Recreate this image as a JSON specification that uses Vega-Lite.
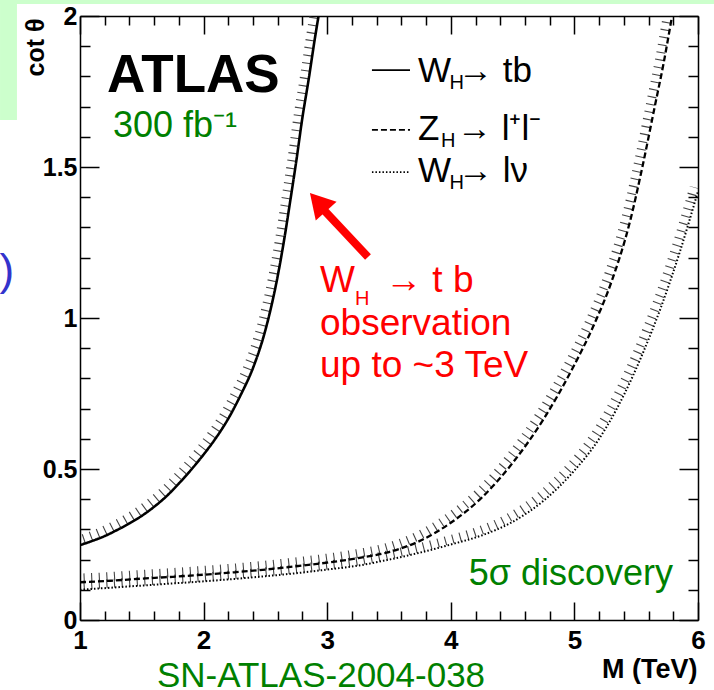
{
  "$schema": "https://vega.github.io/schema/vega-lite/v6.json",
  "width": 618,
  "height": 604,
  "autosize": {"type": "none"},
  "padding": {"left": 80, "top": 16, "right": 16, "bottom": 70},
  "background": "white",
  "config": {
    "view": {"stroke": null},
    "font": "Liberation Sans",
    "axis": {"domainColor": "#000", "domainWidth": 1.5, "tickColor": "#000", "tickWidth": 1.5, "grid": false, "labelOverlap": false, "labelFlush": false, "labelBound": false}
  },
  "datasets": {
    "curves": [
      {"ch": "tb", "m": 1.0, "c": 0.248},
      {"ch": "tb", "m": 1.1, "c": 0.262},
      {"ch": "tb", "m": 1.2, "c": 0.278},
      {"ch": "tb", "m": 1.3, "c": 0.298},
      {"ch": "tb", "m": 1.4, "c": 0.32},
      {"ch": "tb", "m": 1.5, "c": 0.345},
      {"ch": "tb", "m": 1.6, "c": 0.375},
      {"ch": "tb", "m": 1.7, "c": 0.41},
      {"ch": "tb", "m": 1.8, "c": 0.452},
      {"ch": "tb", "m": 1.9, "c": 0.498},
      {"ch": "tb", "m": 2.0, "c": 0.548},
      {"ch": "tb", "m": 2.1, "c": 0.603},
      {"ch": "tb", "m": 2.2, "c": 0.667},
      {"ch": "tb", "m": 2.3, "c": 0.745},
      {"ch": "tb", "m": 2.4, "c": 0.835},
      {"ch": "tb", "m": 2.5, "c": 0.96},
      {"ch": "tb", "m": 2.6, "c": 1.14},
      {"ch": "tb", "m": 2.65, "c": 1.255},
      {"ch": "tb", "m": 2.7, "c": 1.385},
      {"ch": "tb", "m": 2.75, "c": 1.52},
      {"ch": "tb", "m": 2.8, "c": 1.665},
      {"ch": "tb", "m": 2.85, "c": 1.79},
      {"ch": "tb", "m": 2.9, "c": 1.925},
      {"ch": "tb", "m": 2.93, "c": 2.0},
      {"ch": "ll", "m": 1.0, "c": 0.125},
      {"ch": "ll", "m": 1.25, "c": 0.13},
      {"ch": "ll", "m": 1.5, "c": 0.137},
      {"ch": "ll", "m": 1.75, "c": 0.143},
      {"ch": "ll", "m": 2.0, "c": 0.15},
      {"ch": "ll", "m": 2.25, "c": 0.158},
      {"ch": "ll", "m": 2.5, "c": 0.167},
      {"ch": "ll", "m": 2.75, "c": 0.178},
      {"ch": "ll", "m": 3.0, "c": 0.19},
      {"ch": "ll", "m": 3.25, "c": 0.205},
      {"ch": "ll", "m": 3.5, "c": 0.225},
      {"ch": "ll", "m": 3.75, "c": 0.262},
      {"ch": "ll", "m": 4.0, "c": 0.322},
      {"ch": "ll", "m": 4.25, "c": 0.405},
      {"ch": "ll", "m": 4.5, "c": 0.52},
      {"ch": "ll", "m": 4.75, "c": 0.665},
      {"ch": "ll", "m": 5.0, "c": 0.845},
      {"ch": "ll", "m": 5.15, "c": 0.97},
      {"ch": "ll", "m": 5.3, "c": 1.12},
      {"ch": "ll", "m": 5.45, "c": 1.32},
      {"ch": "ll", "m": 5.55, "c": 1.5},
      {"ch": "ll", "m": 5.65, "c": 1.7},
      {"ch": "ll", "m": 5.72, "c": 1.84},
      {"ch": "ll", "m": 5.79, "c": 2.0},
      {"ch": "lnu", "m": 1.0, "c": 0.1},
      {"ch": "lnu", "m": 1.25, "c": 0.107},
      {"ch": "lnu", "m": 1.5, "c": 0.114},
      {"ch": "lnu", "m": 1.75, "c": 0.121},
      {"ch": "lnu", "m": 2.0, "c": 0.128},
      {"ch": "lnu", "m": 2.25, "c": 0.136},
      {"ch": "lnu", "m": 2.5, "c": 0.145},
      {"ch": "lnu", "m": 2.75, "c": 0.155},
      {"ch": "lnu", "m": 3.0, "c": 0.167},
      {"ch": "lnu", "m": 3.25, "c": 0.18},
      {"ch": "lnu", "m": 3.5, "c": 0.2},
      {"ch": "lnu", "m": 3.75, "c": 0.223},
      {"ch": "lnu", "m": 4.0, "c": 0.25},
      {"ch": "lnu", "m": 4.25, "c": 0.28},
      {"ch": "lnu", "m": 4.5, "c": 0.325},
      {"ch": "lnu", "m": 4.75, "c": 0.395},
      {"ch": "lnu", "m": 5.0, "c": 0.495},
      {"ch": "lnu", "m": 5.2, "c": 0.6},
      {"ch": "lnu", "m": 5.4, "c": 0.745},
      {"ch": "lnu", "m": 5.55, "c": 0.88},
      {"ch": "lnu", "m": 5.7, "c": 1.035},
      {"ch": "lnu", "m": 5.85, "c": 1.215},
      {"ch": "lnu", "m": 6.0, "c": 1.42}
    ]
  },
  "layer": [
    {
      "data": {"values": [
        {"x1": 0.353, "x2": 0.49, "y1": 2.053, "y2": 1.656},
        {"x1": 0.353, "x2": 6.2, "y1": 2.053, "y2": 2.04}
      ]},
      "mark": {"type": "rect", "color": "#ccffcc"},
      "encoding": {
        "x": {"field": "x1", "type": "quantitative", "scale": {"domain": [1, 6], "nice": false, "zero": false}, "axis": null},
        "x2": {"field": "x2"},
        "y": {"field": "y1", "type": "quantitative", "scale": {"domain": [0, 2], "nice": false, "zero": false}, "axis": null},
        "y2": {"field": "y2"}
      }
    },
    {
      "data": {"name": "curves"},
      "mark": {"type": "line", "color": "#444", "strokeWidth": 9, "strokeDash": [1.1, 6.5], "xOffset": -4, "yOffset": -4, "clip": true, "interpolate": "monotone"},
      "encoding": {
        "x": {"field": "m", "type": "quantitative", "scale": {"domain": [1, 6], "nice": false, "zero": false},
          "axis": {"orient": "bottom", "values": [1,1.2,1.4,1.6,1.8,2,2.2,2.4,2.6,2.8,3,3.2,3.4,3.6,3.8,4,4.2,4.4,4.6,4.8,5,5.2,5.4,5.6,5.8,6],
            "tickSize": {"condition": {"test": "datum.value % 1 == 0", "value": -18}, "value": -9},
            "labelExpr": "datum.value % 1 == 0 ? '' + datum.value : ''",
            "labelFont": "Liberation Sans", "labelFontWeight": "bold", "labelFontSize": 26, "labelColor": "#000", "labelPadding": 25, "labelBaseline": "top",
            "title": "M (TeV)", "titleFont": "Liberation Sans", "titleFontWeight": "bold", "titleFontSize": 27, "titleColor": "#000",
            "titleAnchor": "end", "titleAlign": "right", "titleBaseline": "alphabetic", "titleX": 617, "titleY": 57}},
        "y": {"field": "c", "type": "quantitative", "scale": {"domain": [0, 2], "nice": false, "zero": false},
          "axis": {"orient": "left", "values": [0,0.1,0.2,0.3,0.4,0.5,0.6,0.7,0.8,0.9,1,1.1,1.2,1.3,1.4,1.5,1.6,1.7,1.8,1.9,2],
            "tickSize": {"condition": {"test": "round(datum.value*10) % 5 == 0", "value": -19}, "value": -10},
            "labelExpr": "round(datum.value*10) % 5 == 0 ? '' + datum.value : ''",
            "labelFont": "Liberation Sans", "labelFontWeight": "bold", "labelFontSize": 25, "labelColor": "#000", "labelPadding": 22,
            "title": "cot θ", "titleFont": "Liberation Sans", "titleFontWeight": "bold", "titleFontSize": 25, "titleColor": "#000",
            "titleAngle": -90, "titleAlign": "right", "titleBaseline": "alphabetic", "titleX": -37, "titleY": 2}},
        "detail": {"field": "ch"}
      }
    },
    {
      "data": {"name": "curves"},
      "mark": {"type": "line", "color": "#000", "clip": true, "interpolate": "monotone"},
      "encoding": {
        "x": {"field": "m", "type": "quantitative", "scale": {"domain": [1, 6], "nice": false, "zero": false},
          "axis": {"orient": "top", "values": [1,1.2,1.4,1.6,1.8,2,2.2,2.4,2.6,2.8,3,3.2,3.4,3.6,3.8,4,4.2,4.4,4.6,4.8,5,5.2,5.4,5.6,5.8,6],
            "tickSize": {"condition": {"test": "datum.value % 1 == 0", "value": -18}, "value": -9},
            "labels": false, "title": null}},
        "y": {"field": "c", "type": "quantitative", "scale": {"domain": [0, 2], "nice": false, "zero": false},
          "axis": {"orient": "right", "values": [0,0.1,0.2,0.3,0.4,0.5,0.6,0.7,0.8,0.9,1,1.1,1.2,1.3,1.4,1.5,1.6,1.7,1.8,1.9,2],
            "tickSize": {"condition": {"test": "round(datum.value*10) % 5 == 0", "value": -19}, "value": -10},
            "labels": false, "title": null}},
        "detail": {"field": "ch"},
        "strokeDash": {"field": "ch", "type": "nominal", "scale": {"domain": ["tb", "ll", "lnu"], "range": [[1, 0], [6, 3], [1.5, 2]]}, "legend": null},
        "strokeWidth": {"field": "ch", "type": "nominal", "scale": {"domain": ["tb", "ll", "lnu"], "range": [2.6, 2, 2.2]}, "legend": null}
      }
    },
    {
      "data": {"values": [
        {"ch": "tb", "m1": 3.362, "m2": 3.67, "c": 1.821},
        {"ch": "ll", "m1": 3.362, "m2": 3.67, "c": 1.623},
        {"ch": "lnu", "m1": 3.362, "m2": 3.67, "c": 1.483}
      ]},
      "mark": {"type": "rule", "color": "#000", "strokeWidth": 1.8},
      "encoding": {
        "x": {"field": "m1", "type": "quantitative", "scale": {"domain": [1, 6], "nice": false, "zero": false}, "axis": null},
        "x2": {"field": "m2"},
        "y": {"field": "c", "type": "quantitative", "scale": {"domain": [0, 2], "nice": false, "zero": false}, "axis": null},
        "strokeDash": {"field": "ch", "type": "nominal", "scale": {"domain": ["tb", "ll", "lnu"], "range": [[1, 0], [6, 3], [1.5, 2]]}, "legend": null}
      }
    },
    {
      "data": {"values": [
        {"m": 3.735, "c": 1.781, "t": "W"},
        {"m": 4.058, "c": 1.781, "t": "→ tb"},
        {"m": 3.735, "c": 1.589, "t": "Z"},
        {"m": 4.05, "c": 1.589, "t": "→ l⁺l⁻"},
        {"m": 3.735, "c": 1.45, "t": "W"},
        {"m": 4.058, "c": 1.45, "t": "→ lν"}
      ]},
      "mark": {"type": "text", "align": "left", "baseline": "alphabetic", "fontSize": 35, "font": "Liberation Sans", "color": "#000"},
      "encoding": {
        "x": {"field": "m", "type": "quantitative", "scale": {"domain": [1, 6], "nice": false, "zero": false}, "axis": null},
        "y": {"field": "c", "type": "quantitative", "scale": {"domain": [0, 2], "nice": false, "zero": false}, "axis": null},
        "text": {"field": "t"}
      }
    },
    {
      "data": {"values": [
        {"m": 3.99, "c": 1.758, "t": "H"},
        {"m": 3.92, "c": 1.566, "t": "H"},
        {"m": 3.99, "c": 1.427, "t": "H"}
      ]},
      "mark": {"type": "text", "align": "left", "baseline": "alphabetic", "fontSize": 20, "font": "Liberation Sans", "color": "#000"},
      "encoding": {
        "x": {"field": "m", "type": "quantitative", "scale": {"domain": [1, 6], "nice": false, "zero": false}, "axis": null},
        "y": {"field": "c", "type": "quantitative", "scale": {"domain": [0, 2], "nice": false, "zero": false}, "axis": null},
        "text": {"field": "t"}
      }
    },
    {
      "data": {"values": [{"m": 1.2184, "c": 1.748, "t": "ATLAS"}]},
      "mark": {"type": "text", "align": "left", "baseline": "alphabetic", "fontSize": 53, "fontWeight": "bold", "font": "Liberation Sans", "color": "#000"},
      "encoding": {
        "x": {"field": "m", "type": "quantitative", "scale": {"domain": [1, 6], "nice": false, "zero": false}, "axis": null},
        "y": {"field": "c", "type": "quantitative", "scale": {"domain": [0, 2], "nice": false, "zero": false}, "axis": null},
        "text": {"field": "t"}
      }
    },
    {
      "data": {"values": [{"m": 1.267, "c": 1.599, "t": "300 fb⁻¹"}]},
      "mark": {"type": "text", "align": "left", "baseline": "alphabetic", "fontSize": 36, "font": "Liberation Sans", "color": "#008000"},
      "encoding": {
        "x": {"field": "m", "type": "quantitative", "scale": {"domain": [1, 6], "nice": false, "zero": false}, "axis": null},
        "y": {"field": "c", "type": "quantitative", "scale": {"domain": [0, 2], "nice": false, "zero": false}, "axis": null},
        "text": {"field": "t"}
      }
    },
    {
      "data": {"values": [{"m": 5.798, "c": 0.116, "t": "5σ discovery"}]},
      "mark": {"type": "text", "align": "right", "baseline": "alphabetic", "fontSize": 36, "font": "Liberation Sans", "color": "#008000"},
      "encoding": {
        "x": {"field": "m", "type": "quantitative", "scale": {"domain": [1, 6], "nice": false, "zero": false}, "axis": null},
        "y": {"field": "c", "type": "quantitative", "scale": {"domain": [0, 2], "nice": false, "zero": false}, "axis": null},
        "text": {"field": "t"}
      }
    },
    {
      "data": {"values": [{"m": 2.95, "c": -0.222, "t": "SN-ATLAS-2004-038"}]},
      "mark": {"type": "text", "align": "center", "baseline": "alphabetic", "fontSize": 35, "font": "Liberation Sans", "color": "#008000"},
      "encoding": {
        "x": {"field": "m", "type": "quantitative", "scale": {"domain": [1, 6], "nice": false, "zero": false}, "axis": null},
        "y": {"field": "c", "type": "quantitative", "scale": {"domain": [0, 2], "nice": false, "zero": false}, "axis": null},
        "text": {"field": "t"}
      }
    },
    {
      "data": {"values": [
        {"m": 2.942, "c": 1.086, "t": "W"},
        {"m": 3.468, "c": 1.086, "t": "→ t b"},
        {"m": 2.942, "c": 0.944, "t": "observation"},
        {"m": 2.942, "c": 0.805, "t": "up to ~3 TeV"}
      ]},
      "mark": {"type": "text", "align": "left", "baseline": "alphabetic", "fontSize": 37, "font": "Liberation Sans", "color": "#ff0000"},
      "encoding": {
        "x": {"field": "m", "type": "quantitative", "scale": {"domain": [1, 6], "nice": false, "zero": false}, "axis": null},
        "y": {"field": "c", "type": "quantitative", "scale": {"domain": [0, 2], "nice": false, "zero": false}, "axis": null},
        "text": {"field": "t"}
      }
    },
    {
      "data": {"values": [{"m": 3.225, "c": 1.043, "t": "H"}]},
      "mark": {"type": "text", "align": "left", "baseline": "alphabetic", "fontSize": 20, "font": "Liberation Sans", "color": "#ff0000"},
      "encoding": {
        "x": {"field": "m", "type": "quantitative", "scale": {"domain": [1, 6], "nice": false, "zero": false}, "axis": null},
        "y": {"field": "c", "type": "quantitative", "scale": {"domain": [0, 2], "nice": false, "zero": false}, "axis": null},
        "text": {"field": "t"}
      }
    },
    {
      "data": {"values": [{"m1": 2.958, "c1": 1.364, "m2": 3.33, "c2": 1.202}]},
      "mark": {"type": "rule", "color": "#ff0000", "strokeWidth": 8, "strokeCap": "butt"},
      "encoding": {
        "x": {"field": "m1", "type": "quantitative", "scale": {"domain": [1, 6], "nice": false, "zero": false}, "axis": null},
        "x2": {"field": "m2"},
        "y": {"field": "c1", "type": "quantitative", "scale": {"domain": [0, 2], "nice": false, "zero": false}, "axis": null},
        "y2": {"field": "c2"}
      }
    },
    {
      "data": {"values": [{"m": 2.926, "c": 1.384}]},
      "mark": {"type": "point", "shape": "triangle-up", "filled": true, "color": "#ff0000", "opacity": 1, "size": 784, "angle": 318},
      "encoding": {
        "x": {"field": "m", "type": "quantitative", "scale": {"domain": [1, 6], "nice": false, "zero": false}, "axis": null},
        "y": {"field": "c", "type": "quantitative", "scale": {"domain": [0, 2], "nice": false, "zero": false}, "axis": null}
      }
    },
    {
      "data": {"values": [{"m": 0.409, "c": 1.152, "t": ")"}]},
      "mark": {"type": "text", "align": "center", "baseline": "middle", "fontSize": 44, "font": "Liberation Sans", "color": "#3333cc"},
      "encoding": {
        "x": {"field": "m", "type": "quantitative", "scale": {"domain": [1, 6], "nice": false, "zero": false}, "axis": null},
        "y": {"field": "c", "type": "quantitative", "scale": {"domain": [0, 2], "nice": false, "zero": false}, "axis": null},
        "text": {"field": "t"}
      }
    }
  ],
  "resolve": {"axis": {"x": "independent", "y": "independent"}}
}
